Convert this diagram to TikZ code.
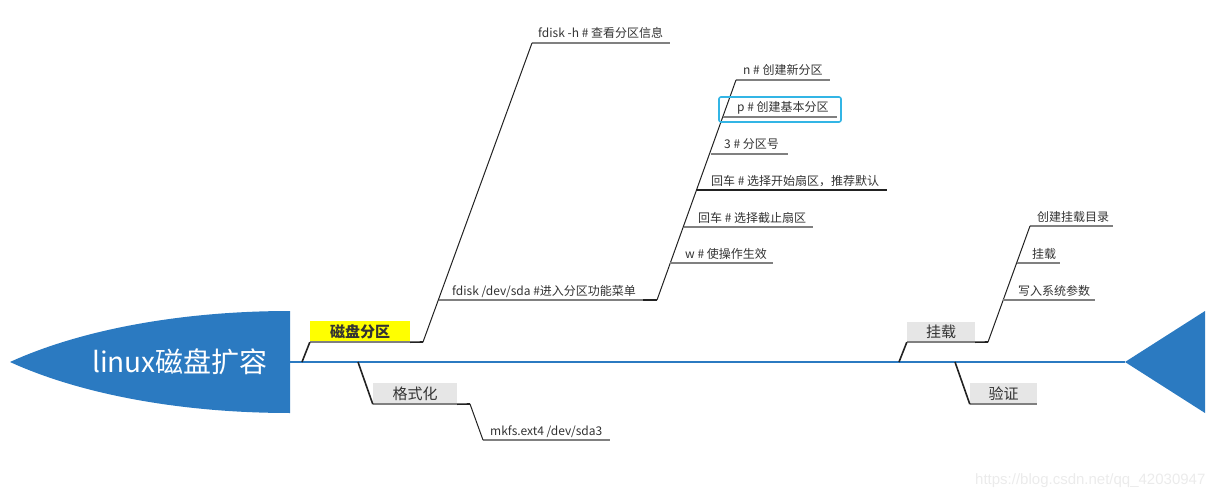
\documentclass[tikz,border=0pt]{standalone}
\usepackage{fontspec}
\newfontfamily\cjk{Noto Sans CJK SC}
\newfontfamily\wm{Liberation Sans}
\definecolor{fishblue}{RGB}{43,122,193}
\definecolor{txtgray}{RGB}{51,51,51}
\definecolor{linegray}{RGB}{128,128,128}
\definecolor{conncol}{RGB}{34,34,34}
\definecolor{boxgray}{RGB}{230,230,230}
\definecolor{hilite}{RGB}{51,181,229}
\definecolor{mainyellow}{RGB}{255,255,0}
\begin{document}
\begin{tikzpicture}[x=1pt,y=-1pt,
  lbl/.style={font=\cjk\fontsize{12}{14}\selectfont, text=txtgray, anchor=base west, inner sep=0pt},
  uline/.style={draw=linegray, line width=1.5pt},
  conn/.style={draw=conncol, line width=1pt},
  thick conn/.style={draw=conncol, line width=1.6pt},
  topicbox/.style={inner sep=0pt, font=\cjk\fontsize{15}{17}\selectfont, text=txtgray},
]
\useasboundingbox (0,0) rectangle (1226,500);

% head
\fill[fishblue] (10,362) .. controls (80,330) and (180,311) .. (290,311) -- (290,413) .. controls (180,413) and (80,394) .. (10,362) -- cycle;
\node[font=\cjk\fontsize{28}{32}\selectfont, text=white, inner sep=0pt] (title) at (180,362) {linux磁盘扩容};
% tail
\fill[fishblue] (1125,362) -- (1205,311) -- (1205,413) -- cycle;
\coordinate (spineL) at (290,362);
\coordinate (spineR) at (1125,362);
\draw[draw=fishblue, line width=1.1pt] (spineL) -- (spineR);

% ===== 磁盘分区 =====
\coordinate (s1) at (302,362);
\node[topicbox, fill=mainyellow, minimum width=100pt, minimum height=21pt, font=\cjk\bfseries\fontsize{15}{17}\selectfont] (cp) at (360,331.5) {磁盘分区};
\coordinate (cpE) at (423,342);
\draw[uline] (cp.south west) -- (cp.south east);
\draw[thick conn] (s1) -- (cp.south west);
\draw[thick conn] (cp.south east) -- (cpE);

% fdisk -h
\coordinate (hS) at (532,43); \coordinate (hE) at (670,43);
\node[lbl] (h) at (538,38) {fdisk -h \# 查看分区信息};
\draw[uline] (hS) -- (hE);
\draw[conn] (cpE) -- (hS);

% fdisk /dev/sda
\coordinate (dS) at (439,300); \coordinate (dE) at (643,300); \coordinate (dK) at (657,300);
\node[lbl] (d) at (452,295) {fdisk /dev/sda \#进入分区功能菜单};
\draw[uline] (dS) -- (dE);
\draw[thick conn] (dE) -- (dK);

% sub children of fdisk /dev/sda
\coordinate (nS) at (736,80); \coordinate (nE) at (830,80);
\node[lbl] (n) at (743,75) {n \# 创建新分区};
\draw[uline] (nS) -- (nE);
\draw[conn] (dK) -- (nS);

\coordinate (pS) at (723,117); \coordinate (pE) at (837,117);
\node[lbl] (p) at (737,112) {p \# 创建基本分区};
\draw[uline] (pS) -- (pE);
\draw[draw=hilite, line width=1.6pt, rounded corners=2pt] (719,97) rectangle (841,122);

\coordinate (tS) at (711,154); \coordinate (tE) at (788,154);
\node[lbl] (t) at (724,149) {3 \# 分区号};
\draw[uline] (tS) -- (tE);

\coordinate (aS) at (697,190); \coordinate (aE) at (887,190);
\node[lbl] (a) at (711,185) {回车 \# 选择开始扇区，推荐默认};
\draw[draw=conncol, line width=1.3pt] (aS) -- (aE);

\coordinate (bS) at (684,227); \coordinate (bE) at (813,227);
\node[lbl] (b) at (698,222) {回车 \# 选择截止扇区};
\draw[uline] (bS) -- (bE);

\coordinate (wS) at (670,263); \coordinate (wE) at (773,263);
\node[lbl] (w) at (685,258) {w \# 使操作生效};
\draw[uline] (wS) -- (wE);

% ===== 格式化 =====
\coordinate (s2) at (358,362);
\node[topicbox, fill=boxgray, minimum width=84pt, minimum height=21pt] (gs) at (415,393.5) {格式化};
\coordinate (gsE) at (470,404);
\draw[uline] (gs.south west) -- (gs.south east);
\draw[thick conn] (s2) -- (gs.south west);
\draw[thick conn] (gs.south east) -- (gsE);
\coordinate (mS) at (483,440); \coordinate (mE) at (610,440);
\node[lbl] (m) at (490,435) {mkfs.ext4 /dev/sda3};
\draw[uline] (mS) -- (mE);
\draw[conn] (gsE) -- (mS);

% ===== 挂载 =====
\coordinate (s3) at (899,362);
\node[topicbox, fill=boxgray, minimum width=68pt, minimum height=20pt] (gz) at (941,332) {挂载};
\coordinate (gzE) at (988,342);
\draw[uline] (gz.south west) -- (gz.south east);
\draw[thick conn] (s3) -- (gz.south west);
\draw[thick conn] (gz.south east) -- (gzE);

\coordinate (c1S) at (1030,226); \coordinate (c1E) at (1113,226);
\node[lbl] (c1) at (1037,221) {创建挂载目录};
\draw[uline] (c1S) -- (c1E);
\draw[conn] (gzE) -- (c1S);

\coordinate (c2S) at (1017,263); \coordinate (c2E) at (1060,263);
\node[lbl] (c2) at (1032,258) {挂载};
\draw[uline] (c2S) -- (c2E);

\coordinate (c3S) at (1003,300); \coordinate (c3E) at (1095,300);
\node[lbl] (c3) at (1018,295) {写入系统参数};
\draw[uline] (c3S) -- (c3E);

% ===== 验证 =====
\coordinate (s4) at (955,362);
\node[topicbox, fill=boxgray, minimum width=67pt, minimum height=21pt] (yz) at (1003.5,393.5) {验证};
\draw[uline] (yz.south west) -- (yz.south east);
\draw[thick conn] (s4) -- (yz.south west);

% watermark
\node[font=\wm\fontsize{15}{17}\selectfont, text=black!8, anchor=west, inner sep=0pt] (wmk) at (975,481) {https://blog.csdn.net/qq\_42030947};
\end{tikzpicture}
\end{document}
